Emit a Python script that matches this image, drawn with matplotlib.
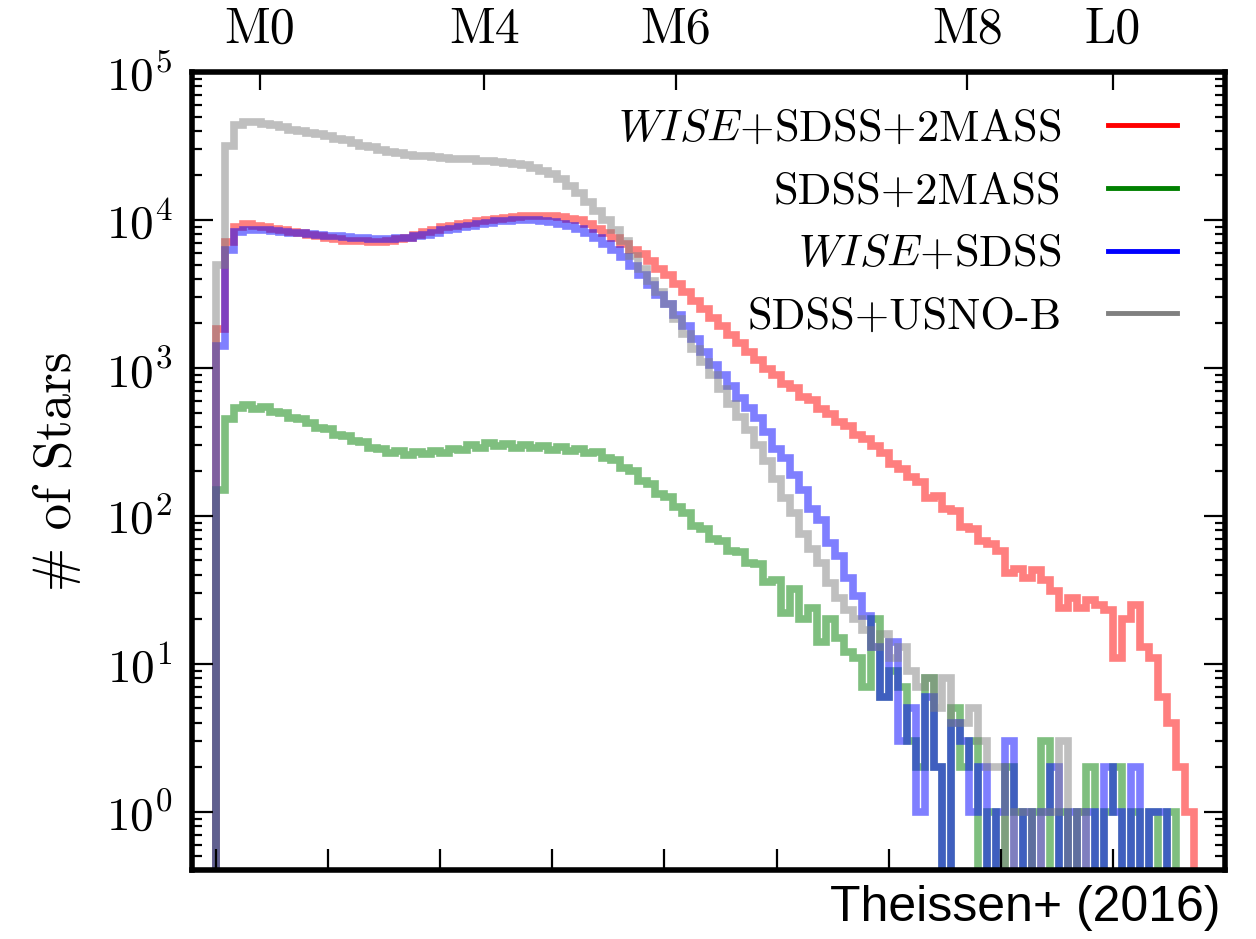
import numpy as np
import matplotlib
matplotlib.use("Agg")
import matplotlib.pyplot as plt
from matplotlib.lines import Line2D
from matplotlib.ticker import NullLocator

plt.rcParams["font.family"] = "cmr10"
plt.rcParams["mathtext.fontset"] = "cm"
plt.rcParams["axes.formatter.use_mathtext"] = True

# histogram counts per bin (bin width 0.04, first bin starts at 0)
BIN_WIDTH = 0.04

red = [1820, 7080, 8910, 9330, 9120, 8910, 8710, 8510, 8320, 8130,
       7940, 7760, 7590, 7410, 7240, 7240, 7160, 7080, 7080, 7160,
       7410, 7590, 7940, 8320, 8510, 8910, 9120, 9330, 9550, 9770,
       10000, 10230, 10350, 10470, 10590, 10720, 10720, 10720, 10470, 10230,
       10000, 9330, 8710, 8130, 7590, 6920, 6310, 5890, 5250, 4680,
       4270, 3720, 3240, 2820, 2510, 2190, 1910, 1660, 1480, 1290,
       1140, 990, 900, 780, 735, 640, 610, 530, 485, 430,
       405, 350, 330, 295, 268, 225, 208, 182, 170, 133,
       137, 112, 108, 84, 81, 68, 65, 58, 41, 44,
       38, 43, 37, 31, 24, 28, 24, 27, 25, 23,
       11, 20, 25, 13, 11, 6, 4, 2, 1, 0]

green = [150, 450, 540, 560, 530, 545, 505, 495, 460, 450,
         425, 395, 385, 350, 345, 320, 315, 290, 285, 265,
         275, 258, 270, 262, 276, 268, 285, 280, 300, 290,
         310, 295, 305, 290, 300, 288, 298, 280, 292, 275,
         282, 265, 270, 245, 240, 210, 200, 172, 165, 140,
         135, 115, 104, 85, 82, 70, 68, 58, 57, 48,
         47, 36, 37, 22, 32, 20, 24, 14, 20, 15,
         12, 11, 7, 20, 6, 9, 7, 3, 2, 8,
         2, 0, 5, 2, 3, 0, 1, 0, 2, 1,
         0, 1, 3, 0, 1, 0, 1, 2, 0, 1,
         2, 0, 1, 0, 1, 0, 1, 0, 0, 0]

blue = [1410, 6310, 8320, 8610, 8610, 8510, 8410, 8320, 8220, 8130,
        8040, 7940, 7850, 7760, 7670, 7590, 7500, 7410, 7410, 7410,
        7500, 7590, 7760, 7940, 8220, 8510, 8710, 8910, 9120, 9330,
        9550, 9770, 9890, 10000, 10000, 10000, 9770, 9660, 9440, 9120,
        8710, 8130, 7590, 6920, 6310, 5620, 4900, 4270, 3630, 3090,
        2690, 2290, 1910, 1580, 1290, 1050, 891, 759, 631, 537,
        457, 370, 285, 245, 188, 150, 112, 94, 66, 54,
        38, 29, 21, 13, 6, 14, 3, 5, 1, 6,
        2, 0, 4, 3, 1, 2, 0, 1, 3, 0,
        1, 0, 1, 2, 0, 1, 0, 1, 0, 2,
        1, 0, 2, 0, 1, 1, 0, 0, 0, 0]

gray = [5000, 31600, 43650, 46240, 45710, 44670, 43650, 42170, 40740, 39810,
        38900, 38020, 36730, 35480, 34670, 33110, 31620, 30900, 29510, 28840,
        28180, 27540, 27230, 26920, 26610, 26300, 26000, 25700, 25700, 25120,
        25120, 24550, 24270, 23990, 23440, 22390, 21380, 20420, 19050, 16980,
        15140, 13180, 11480, 10000, 8510, 7240, 5750, 4680, 3890, 3240,
        2690, 2140, 1700, 1350, 1100, 891, 724, 575, 468, 380,
        302, 234, 178, 132, 105, 75, 60, 48, 35, 28,
        23, 20, 17, 13, 16, 11, 13, 9, 7, 8,
        5, 8, 4, 4, 5, 3, 2, 2, 0, 1,
        1, 0, 1, 1, 3, 0, 1, 0, 0, 0,
        0, 0, 0, 0, 0, 0, 0, 0, 0, 0]

series_labels = [r"$WISE$+SDSS+2MASS", "SDSS+2MASS", r"$WISE$+SDSS", "SDSS+USNO-B"]
series_colors = ["red", "green", "blue", "gray"]

# spectral type positions on the top axis
spt_pos = [0.196, 1.196, 2.05, 3.35, 4.0]
spt_labels = ["M0", "M4", "M6", "M8", "L0"]

fig = plt.figure(figsize=(12.56, 9.39), dpi=100)
ax = fig.add_axes([192 / 1256, 1 - 870 / 939, (1225 - 192) / 1256, (870 - 72) / 939])

for counts, color in zip([red, green, blue, gray], series_colors):
    counts = np.asarray(counts, dtype=float)
    edges = np.arange(len(counts) + 1) * BIN_WIDTH
    ax.stairs(counts, edges, baseline=0, color=color, alpha=0.5, linewidth=5.5)

ax.set_yscale("log")
ax.set_ylim(0.405, 1e5)
ax.set_xlim(-0.107, 4.50)
ax.set_xticks(np.arange(0, 4.01, 0.5))
ax.xaxis.set_minor_locator(NullLocator())
ax.tick_params(axis="x", which="major", direction="in", length=15, width=1.6,
               top=False, labelbottom=False)
ax.tick_params(axis="y", which="major", direction="in", length=15, width=1.6,
               right=True, labelsize=34, pad=14)
ax.tick_params(axis="y", which="minor", direction="in", length=7, width=1.6, right=True)
for sp in ax.spines.values():
    sp.set_linewidth(4)

ax.set_ylabel("# of Stars", fontsize=38, labelpad=18)

ax2 = ax.twiny()
ax2.set_xlim(ax.get_xlim())
ax2.set_xticks(spt_pos)
ax2.set_xticklabels(spt_labels)
ax2.xaxis.set_minor_locator(NullLocator())
ax2.tick_params(axis="x", direction="in", length=13, width=1.6, labelsize=36, pad=14)
for sp in ax2.spines.values():
    sp.set_visible(False)

handles = [Line2D([], [], color=c, lw=3.5) for c in series_colors]
ax.legend(handles, series_labels, loc="upper right", bbox_to_anchor=(0.9535, 0.953),
          frameon=False, markerfirst=False, fontsize=32, handlelength=1.55,
          handletextpad=1.05, labelspacing=0.51, borderaxespad=0, borderpad=0)

fig.text(1220 / 1256, 1 - 921 / 939, "Theissen+ (2016)", ha="right", va="baseline",
         fontsize=36, family="Liberation Sans")

fig.savefig("out.png", dpi=100)
